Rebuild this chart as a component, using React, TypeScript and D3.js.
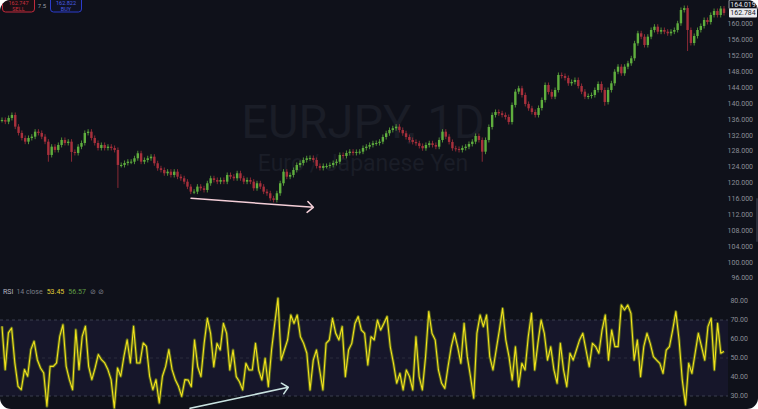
import * as d3 from 'd3'

// EURJPY daily closes left to right
const closes = [
  135.82, 135.39, 136.32, 137.08, 134.14, 132.55, 131.28, 130.35, 131.28, 131.61,
  132.87, 132.55, 131.61, 130.35, 127.0, 129.09, 128.26, 129.52, 130.78, 130.02,
  130.35, 127.76, 127.5, 129.09, 130.02, 132.55, 132.87, 131.28, 130.02, 128.76,
  129.52, 128.76, 129.09, 128.76, 128.26, 124.48, 124.48, 124.98, 125.31, 125.31,
  126.17, 127.43, 125.31, 125.74, 126.17, 126.57, 124.91, 123.65, 123.22, 122.39,
  122.79, 121.96, 122.79, 121.53, 121.13, 120.27, 119.02, 117.76, 117.76, 119.02,
  118.61, 118.18, 119.87, 121.13, 120.7, 120.27, 120.7, 120.27, 121.96, 121.53,
  121.13, 122.39, 121.13, 120.27, 120.7, 120.27, 118.61, 119.87, 119.02, 117.76,
  117.35, 116.09, 115.67, 117.35, 119.87, 122.79, 121.53, 121.96, 123.22, 124.48,
  124.98, 125.74, 126.17, 126.25, 125.74, 124.23, 123.73, 124.23, 124.23, 124.48,
  124.98, 125.31, 127.0, 126.75, 127.5, 127.83, 127.5, 127.76, 127.83, 128.76,
  129.09, 129.52, 129.95, 130.02, 130.35, 131.53, 132.47, 133.3, 133.73, 134.13,
  133.3, 132.47, 131.53, 130.78, 130.28, 129.95, 129.27, 128.69, 129.52, 129.95,
  129.52, 129.09, 130.78, 132.87, 131.61, 130.28, 128.69, 128.51, 128.26, 128.76,
  129.09, 129.77, 130.35, 131.79, 130.78, 127.83, 130.78, 134.05, 137.08, 137.83,
  137.5, 137.08, 136.57, 135.31, 139.6, 142.95, 143.8, 142.11, 139.85, 138.76,
  137.83, 137.08, 138.84, 140.86, 144.63, 142.87, 141.69, 143.37, 147.15, 146.9,
  146.4, 145.06, 145.39, 145.89, 144.38, 142.95, 141.69, 141.86, 142.11, 143.37,
  144.89, 143.37, 140.35, 143.37, 145.06, 147.98, 149.24, 147.58, 149.24, 150.1,
  151.36, 155.14, 157.66, 156.8, 154.71, 156.8, 158.49, 159.32, 158.06, 158.49,
  158.06, 157.66, 158.06, 158.49, 160.18, 163.53, 164.02, 158.49, 155.21, 156.98,
  158.49, 159.5, 161.01, 160.5, 162.27, 163.27, 162.27, 163.9, 162.78,
]

// a few candles with long lower wicks
const longWicks = [
  { i: 14, low: 125.3 },
  { i: 21, low: 125.3 },
  { i: 35, low: 118.7 },
  { i: 145, low: 125.3 },
  { i: 182, low: 139.4 },
  { i: 207, low: 153.2 },
]

// RSI(14) values, left to right
const rsi = [
  66.7, 43.9, 63.2, 65.8, 47.4, 35.1, 33.3, 43.9, 40.4, 54.4,
  58.8, 49.1, 44.7, 42.1, 24.6, 45.6, 45.6, 47.4, 61.4, 67.5,
  45.6, 38.6, 33.3, 64.9, 43.9, 61.4, 66.7, 45.6, 38.6, 44.7,
  51.8, 49.1, 47.4, 43.9, 38.6, 23.7, 44.7, 40.4, 50.9, 59.6,
  47.4, 66.7, 47.4, 47.4, 57.9, 56.1, 40.4, 33.3, 38.6, 26.3,
  40.4, 45.6, 54.4, 43.9, 38.6, 35.1, 29.8, 38.6,
  38.4, 34.9, 59.5, 45.4, 40.2, 57.7, 70.9, 63.0, 45.4, 57.7,
  54.2, 68.2, 63.0, 43.7, 54.2, 40.2, 37.5, 33.2, 47.2, 43.7,
  43.7, 57.7, 43.7, 38.4, 49.8, 34.9, 54.2, 68.2, 81.4, 48.9,
  54.2, 59.5, 72.6, 68.2, 72.6, 61.2, 57.7, 52.5, 33.2, 48.9,
  54.2, 43.7, 33.2, 57.7, 59.5, 70.9, 63.0, 59.5, 66.5, 40.2,
  54.2, 57.7, 68.2, 71.8, 64.7, 63.0, 46.3, 61.2, 59.5, 70.0,
  64.7, 68.2, 71.8, 55.9, 47.2, 36.7, 41.9, 33.2, 43.7, 40.2,
  33.2, 61.2, 40.2, 33.2, 50.7, 74.4, 63.0, 59.5, 43.7, 36.7,
  34.0, 45.4, 55.9, 63.0, 55.9, 47.2, 68.2, 50.7, 40.2, 28.8,
  63.0, 72.6, 66.5, 72.6, 50.7, 43.7, 54.2, 64.7, 76.1, 59.5,
  50.7, 38.4, 55.9, 34.9, 47.2, 43.7, 61.2, 73.5, 43.7, 57.7,
  70.0, 63.0, 48.9, 55.9, 43.7, 36.7, 57.7, 43.7, 34.9, 52.5,
  48.9, 54.2, 59.5, 63.0, 54.2, 45.4, 57.7,
  56.0, 52.5, 64.7, 72.6, 48.9, 64.7, 56.0, 56.0, 77.9, 75.3,
  77.9, 73.5, 48.9, 59.5, 40.2, 56.0, 63.0, 57.7, 50.7, 48.9,
  47.2, 41.9, 54.2, 56.0, 64.7, 74.4, 59.5, 38.4, 25.3, 47.2,
  41.9, 52.5, 63.0, 56.0, 48.9, 66.5, 70.9, 43.7, 68.2, 52.5, 53.5,
]

const priceTicks = d3.range(96, 161, 4)
const rsiTicks = [30, 40, 50, 60, 70, 80]
const rsiBands = [70, 50, 30]

// drawn annotations, in time-fraction / value units
const priceArrow = { t0: 0.2618, v0: 116.1, t1: 0.4312, v1: 113.8 }
const rsiArrow = { t0: 0.2604, v0: 23.5, t1: 0.3965, v1: 34.6 }

const highLabel = '164.019'
const lastLabel = '162.784'
const highValue = 164.019
const lastValue = 162.784

const W = 758
const H = 409
const PLOT_R = 728
const BG = '#0f111a'
const UP = '#5fae3e'
const DOWN = '#a8303c'
const FONT = 'Roboto, "Noto Sans", sans-serif'

function arrowPath(x0: number, y0: number, x1: number, y1: number, size = 8) {
  const a = Math.atan2(y1 - y0, x1 - x0)
  const s = Math.PI / 4.2
  const p1 = [x1 - size * Math.cos(a - s), y1 - size * Math.sin(a - s)]
  const p2 = [x1 - size * Math.cos(a + s), y1 - size * Math.sin(a + s)]
  return `M${x0},${y0}L${x1},${y1}M${p1[0]},${p1[1]}L${x1},${y1}L${p2[0]},${p2[1]}`
}

export default function App() {
  const xT = d3.scaleLinear().domain([0, 1]).range([2, 724])
  const yP = d3.scaleLinear().domain([96, 160]).range([278, 24])
  const yR = d3.scaleLinear().domain([30, 80]).range([396, 301])

  const n = closes.length
  const candles = closes.map((c, i) => {
    const o = i === 0 ? c : closes[i - 1]
    const wick = longWicks.find(w => w.i === i)
    return { x: xT(i / (n - 1)), o, c, low: wick ? wick.low : null }
  })

  const m = rsi.length
  const rsiLine = d3.line<number>()
    .x((_, i) => xT(i / (m - 1)))
    .y(d => yR(d))

  const fmtP = d3.format('.3f')
  const fmtR = d3.format('.2f')

  const lastY = yP(lastValue)
  const highY = Math.min(yP(highValue), lastY - 8.5)

  return (
    <svg width={W} height={H} style={{ position: 'fixed', left: 0, top: 0, display: 'block' }}
      fontFamily={FONT}>
      <defs>
        <clipPath id="panel">
          <rect x={0} y={0} width={W} height={H} rx={11} />
        </clipPath>
        <clipPath id="pricePane">
          <rect x={0} y={0} width={PLOT_R} height={284} />
        </clipPath>
        <clipPath id="rsiPane">
          <rect x={0} y={286} width={PLOT_R} height={H - 286} />
        </clipPath>
      </defs>
      <rect x={0} y={0} width={W} height={H} fill="#ffffff" />
      <g clipPath="url(#panel)">
        <rect x={0} y={0} width={W} height={H} fill={BG} />

        {/* watermark */}
        <text x={363} y={138} textAnchor="middle" fontSize={47} fill="#1a1d27">EURJPY, 1D</text>
        <text x={363} y={171} textAnchor="middle" fontSize={23} fill="#1a1d27">Euro / Japanese Yen</text>

        {/* price axis */}
        {priceTicks.map(t => (
          <text key={t} x={753} y={yP(t)} dy="0.35em" textAnchor="end" fontSize={7} fill="#8b8e98">
            {fmtP(t)}
          </text>
        ))}

        {/* candles */}
        <g clipPath="url(#pricePane)">
          {candles.map((d, i) => {
            const up = d.c >= d.o
            const top = yP(Math.max(d.o, d.c))
            const bot = yP(Math.min(d.o, d.c))
            const col = up ? UP : DOWN
            return (
              <g key={i}>
                <line x1={d.x} x2={d.x} y1={top - 2.5} y2={d.low !== null ? yP(d.low) : bot + 2.5}
                  stroke={col} strokeWidth={0.8} />
                <rect x={d.x - 1.2} y={top} width={2.4} height={Math.max(1, bot - top)} fill={col} />
              </g>
            )
          })}
          <path d={arrowPath(xT(priceArrow.t0), yP(priceArrow.v0), xT(priceArrow.t1), yP(priceArrow.v1))}
            fill="none" stroke="#f4cfd8" strokeWidth={1.5} strokeLinecap="round" strokeLinejoin="round" />
        </g>

        {/* price labels top right */}
        <rect x={729} y={highY - 4.5} width={28} height={9} fill={BG} stroke="#cfd2da" strokeWidth={0.7} rx={1} />
        <text x={743} y={highY} dy="0.35em" textAnchor="middle" fontSize={7} fill="#e6e8ee">{highLabel}</text>
        <rect x={729} y={lastY - 4.5} width={28} height={9} fill="#e9eaee" rx={1} />
        <text x={743} y={lastY} dy="0.35em" textAnchor="middle" fontSize={7} fill="#131722">{lastLabel}</text>

        {/* scrollbar */}
        <rect x={756} y={198} width={2} height={44} fill="#2a2d3a" rx={1} />

        {/* sell / buy */}
        <rect x={2.5} y={-5} width={32} height={17} rx={3} fill="#1a0f15" stroke="#c22a3c" strokeWidth={1} />
        <text x={18.5} y={4.5} textAnchor="middle" fontSize={5.5} fill="#c8303f">162.747</text>
        <text x={18.5} y={10.5} textAnchor="middle" fontSize={5.5} fill="#c8303f">SELL</text>
        <text x={42} y={8} textAnchor="middle" fontSize={6} fill="#9a9da6">7.5</text>
        <rect x={50.5} y={-5} width={31} height={17} rx={3} fill="#0f1224" stroke="#2c3ccc" strokeWidth={1} />
        <text x={66} y={4.5} textAnchor="middle" fontSize={5.5} fill="#4c5ee6">162.822</text>
        <text x={66} y={10.5} textAnchor="middle" fontSize={5.5} fill="#4c5ee6">BUY</text>

        {/* RSI pane */}
        <rect x={0} y={yR(70)} width={PLOT_R} height={yR(30) - yR(70)} fill="#16162a" />
        {rsiBands.map(b => (
          <line key={b} x1={0} x2={PLOT_R} y1={yR(b)} y2={yR(b)}
            stroke={b === 50 ? '#2b2d3c' : '#3b3e4e'} strokeWidth={1} strokeDasharray="3 3" />
        ))}
        {rsiTicks.map(t => (
          <text key={t} x={748} y={yR(t)} dy="0.35em" textAnchor="end" fontSize={7} fill="#8b8e98">
            {fmtR(t)}
          </text>
        ))}
        <g clipPath="url(#rsiPane)">
          <path d={rsiLine(rsi) || ''} fill="none" stroke="#5d6b1c" strokeWidth={3} strokeLinejoin="round" opacity={0.85} />
          <path d={rsiLine(rsi) || ''} fill="none" stroke="#f2e21c" strokeWidth={1.1} strokeLinejoin="round" />
        </g>
        <path d={arrowPath(xT(rsiArrow.t0), yR(rsiArrow.v0), xT(rsiArrow.t1), yR(rsiArrow.v1))}
          fill="none" stroke="#c9e2e0" strokeWidth={1.5} strokeLinecap="round" strokeLinejoin="round" />

        {/* RSI legend */}
        <text x={3} y={294} fontSize={7}>
          <tspan fill="#b4b7c0">RSI</tspan>
          <tspan fill="#7b7e88" dx={3}>14 close</tspan>
          <tspan fill="#e2cf36" dx={4}>53.45</tspan>
          <tspan fill="#5f9e45" dx={4}>56.57</tspan>
          <tspan fill="#7b7e88" dx={4}>⊘ ⊘</tspan>
        </text>
      </g>
    </svg>
  )
}
